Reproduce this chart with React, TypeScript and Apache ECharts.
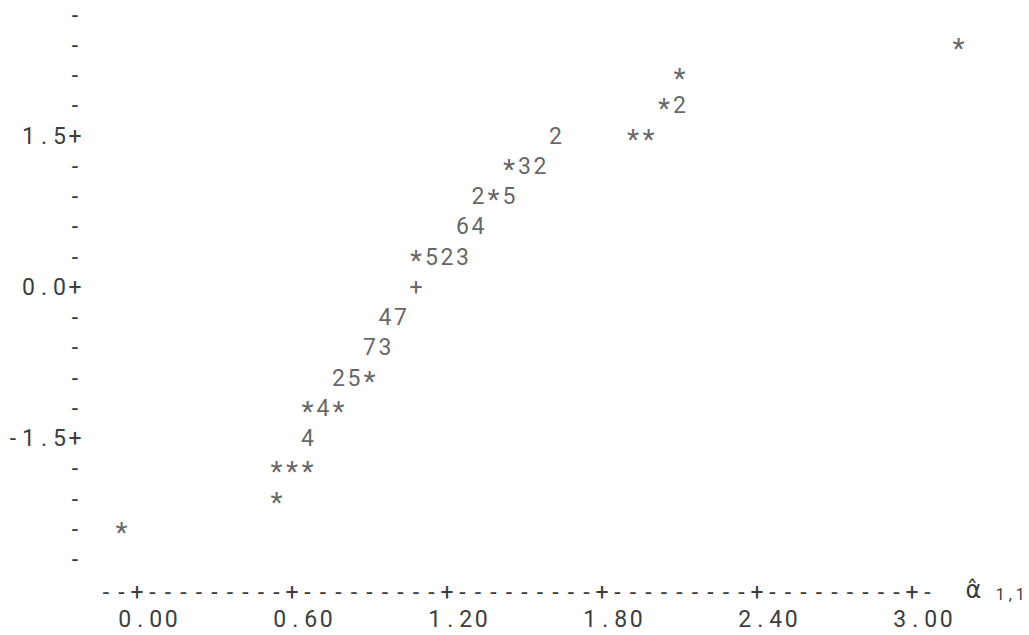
import React, { useEffect, useRef } from "react";
import * as echarts from "echarts";

// ---- data: one entry per printed character cell (Minitab-style character plot)
// count 1 -> "*", 2..9 -> digit, >9 -> "+"
const pointX = [
  3.18,
  2.1,
  2.04, 2.1,
  1.62, 1.92, 1.98,
  1.44, 1.5, 1.56,
  1.32, 1.38, 1.44,
  1.26, 1.32,
  1.08, 1.14, 1.2, 1.26,
  1.08,
  0.96, 1.02,
  0.9, 0.96,
  0.78, 0.84, 0.9,
  0.66, 0.72, 0.78,
  0.66,
  0.54, 0.6, 0.66,
  0.54,
  -0.06,
];
const pointY = [
  2.4,
  2.1,
  1.8, 1.8,
  1.5, 1.5, 1.5,
  1.2, 1.2, 1.2,
  0.9, 0.9, 0.9,
  0.6, 0.6,
  0.3, 0.3, 0.3, 0.3,
  0.0,
  -0.3, -0.3,
  -0.6, -0.6,
  -0.9, -0.9, -0.9,
  -1.2, -1.2, -1.2,
  -1.5,
  -1.8, -1.8, -1.8,
  -2.1,
  -2.4,
];
const pointCount = [
  1,
  1,
  1, 2,
  2, 1, 1,
  1, 3, 2,
  2, 1, 5,
  6, 4,
  1, 5, 2, 3,
  12,
  4, 7,
  7, 3,
  2, 5, 1,
  1, 4, 1,
  4,
  1, 1, 1,
  1,
  1,
];

const xTickValues = [0.0, 0.6, 1.2, 1.8, 2.4, 3.0];
const yTickValues = [1.5, 0.0, -1.5];
const xAxisTitle = "\u03B1\u0302";
const xAxisSubscript = ["1", ",", "1"];

// ---- layout / style
const CELL = 15.5; // width of one character column (0.06 units)
const COL = 0.06;
const ROW = 0.3;
const FONT = "Roboto, 'DejaVu Sans', sans-serif";
const FS = 23;
const INK = "#3d3d3d";

const cellStyle = {
  width: CELL,
  align: "center",
  fontSize: FS,
  fontFamily: FONT,
  fontWeight: 400,
  color: INK,
};
const cells = (s: string) =>
  s
    .split("")
    .map((ch) => `{c|${ch}}`)
    .join("");
const near = (a: number, b: number) => Math.abs(a - b) < 1e-6;
const glyph = (n: number) => (n === 1 ? "*" : n < 10 ? String(n) : "+");

export default function App() {
  const ref = useRef<HTMLDivElement>(null);

  useEffect(() => {
    if (!ref.current) return;
    const chart = echarts.init(ref.current, undefined, { renderer: "svg" });

    const hiddenAxis = {
      axisLine: { show: false, onZero: false },
      axisTick: { show: false },
      splitLine: { show: false },
    };

    chart.setOption({
      animation: false,
      backgroundColor: "#ffffff",
      grid: { left: 75, right: 70.5, top: 15, bottom: 45, containLabel: false },
      xAxis: [
        {
          type: "value",
          position: "bottom",
          min: -0.24,
          max: 3.18,
          interval: COL,
          ...hiddenAxis,
          axisLabel: {
            margin: 29,
            verticalAlign: "middle",
            showMinLabel: true,
            showMaxLabel: true,
            formatter: (v: number) => {
              const t = xTickValues.find((x) => near(x, v));
              return t === undefined ? "" : "{s| }" + cells(t.toFixed(2));
            },
            rich: { c: cellStyle, s: { width: 22 } },
          },
        },
        {
          type: "value",
          position: "bottom",
          min: -0.24,
          max: 3.18,
          interval: COL,
          ...hiddenAxis,
          axisLabel: {
            margin: 2,
            verticalAlign: "middle",
            showMinLabel: true,
            showMaxLabel: true,
            formatter: (v: number) => {
              const c = Math.round(v / COL);
              if (c < -2 || c > 51) return "";
              return cells(xTickValues.some((t) => near(t, v)) ? "+" : "-");
            },
            rich: { c: cellStyle },
          },
          name:
            `{a|${xAxisTitle}}{g| }` + xAxisSubscript.map((ch) => `{s|${ch}}`).join(""),
          nameLocation: "end",
          nameGap: 7,
          nameTextStyle: {
            verticalAlign: "middle",
            rich: {
              a: { fontSize: 24, fontFamily: "'DejaVu Sans', sans-serif", color: INK },
              g: { width: 14 },
              s: {
                width: 10,
                align: "center",
                fontSize: 16,
                lineHeight: 16,
                fontFamily: FONT,
                color: INK,
                padding: [9, 0, 0, 0],
              },
            },
          },
        },
      ],
      yAxis: {
        type: "value",
        min: -3.0,
        max: 2.7,
        interval: ROW,
        ...hiddenAxis,
        axisLabel: {
          margin: -CELL / 2,
          showMinLabel: true,
          showMaxLabel: true,
          formatter: (v: number) => {
            const r = Math.round(v / ROW);
            if (r === -10) return "";
            const t = yTickValues.find((y) => near(y, v));
            return cells(t === undefined ? "-" : t.toFixed(1) + "+");
          },
          rich: { c: cellStyle },
        },
      },
      series: [
        {
          type: "scatter",
          xAxisIndex: 0,
          yAxisIndex: 0,
          silent: true,
          symbol: "circle",
          symbolSize: 1,
          itemStyle: { color: "rgba(0,0,0,0)" },
          emphasis: { disabled: true },
          label: {
            show: true,
            position: "inside",
            fontSize: FS,
            lineHeight: 22,
            fontFamily: FONT,
            fontWeight: 400,
            color: INK,
            formatter: (p: any) => glyph(p.value[2]),
          },
          data: pointX.map((x, i) => ({
            value: [x, pointY[i], pointCount[i]],
            label: pointCount[i] === 1 ? { fontSize: 28, lineHeight: 22, offset: [0, 3] } : undefined,
          })),
        },
      ],
    });

    return () => chart.dispose();
  }, []);

  return (
    <div
      ref={ref}
      style={{ position: "fixed", left: 0, top: 0, width: 1029, height: 635, background: "#fff" }}
    />
  );
}
